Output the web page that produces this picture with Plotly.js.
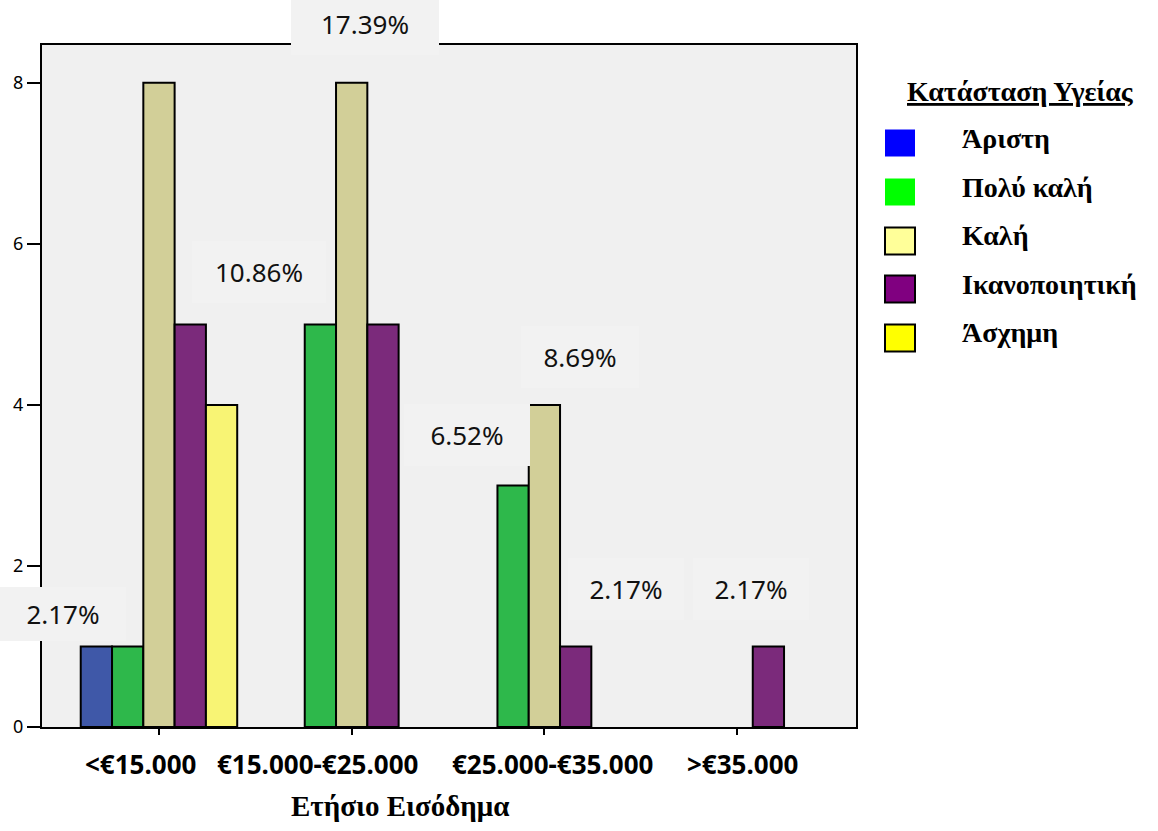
<!DOCTYPE html>
<html>
<head>
<meta charset="utf-8">
<script src="https://cdn.plot.ly/plotly-3.0.1.min.js"></script>
<style>html,body{margin:0;padding:0;background:#fff;}#chart{width:1158px;height:831px;}</style>
</head>
<body>
<div id="chart"></div>
<script>
// ---- data ----
const categories = ['<€15.000', '€15.000-€25.000', '€25.000-€35.000', '>€35.000'];
const seriesNames = ['Άριστη', 'Πολύ καλή', 'Καλή', 'Ικανοποιητική', 'Άσχημη'];
const aristi      = [1, null, null, null];
const polyKali    = [1, 5, 3, null];
const kali        = [8, 8, 4, null];
const ikanopoiet  = [5, 5, 1, 1];
const asximi      = [4, null, null, null];
const pctLabels   = ['2.17%', '17.39%', '10.86%', '6.52%', '8.69%', '2.17%', '2.17%'];
const xTitle = 'Ετήσιο Εισόδημα';
const legendTitle = 'Κατάσταση Υγείας';

// ---- styles ----
const barColors = ['#3f58a8', '#2eb84b', '#d2cf98', '#7b2a7b', '#f8f474'];
const legendColors = ['#0000ff', '#00ff00', '#ffff99', '#800080', '#ffff00'];
const legendBorders = [false, false, true, true, true];
const allSeries = [aristi, polyKali, kali, ikanopoiet, asximi];

// label placement in pixels (layout only)
const pctPx = [[63, 614], [365, 24], [259, 272], [467, 435], [580, 357], [626, 589], [751, 589]];
const pctBoxW = [118, 140, 126, 118, 110, 108, 108];
const pctBoxH = [46, 54, 54, 54, 54, 54, 54];
const catLabelPxX = [140, 317, 552, 742];   // source places category labels off-centre
const catLabelPxY = 764;
const xTitlePx = [400, 806];

const L = 42, R = 856, T = 45, B = 727;
const W = 1158, H = 831;
const pxX = p => (p - L) / (R - L);
const pxY = p => (B - p) / (B - T);

const traces = allSeries.map((vals, i) => ({
  type: 'bar',
  name: seriesNames[i],
  x: categories,
  y: vals,
  marker: {color: barColors[i], line: {color: '#000', width: 2}},
  showlegend: false,
  hoverinfo: 'x+y+name'
}));

const sans = 'Noto Sans, Open Sans, sans-serif';
const serif = 'Liberation Serif, Times New Roman, serif';

const annotations = [];
pctLabels.forEach((t, i) => {
  annotations.push({
    xref: 'paper', yref: 'paper', x: pxX(pctPx[i][0]), y: pxY(pctPx[i][1]),
    xanchor: 'center', yanchor: 'middle',
    text: t, showarrow: false,
    font: {family: sans, size: 26, color: '#111'},
    bgcolor: '#f2f2f2', borderpad: 4, borderwidth: 0,
    width: pctBoxW[i], height: pctBoxH[i], align: 'center', valign: 'middle'
  });
});

// category labels (axis tick labels drawn as annotations to keep source placement)
categories.forEach((c, i) => {
  annotations.push({
    xref: 'paper', yref: 'paper', x: pxX(catLabelPxX[i]), y: pxY(catLabelPxY),
    xanchor: 'center', yanchor: 'middle', showarrow: false,
    text: '<b>' + c + '</b>',
    font: {family: sans, size: 26, color: '#000'}
  });
});

// x-axis title
annotations.push({
  xref: 'paper', yref: 'paper', x: pxX(xTitlePx[0]), y: pxY(xTitlePx[1]),
  xanchor: 'center', yanchor: 'middle', showarrow: false,
  text: '<b>' + xTitle + '</b>',
  font: {family: serif, size: 29, color: '#000'}
});

annotations.push({
  xref: 'paper', yref: 'paper', x: pxX(1021), y: pxY(91),
  xanchor: 'center', yanchor: 'middle', showarrow: false,
  text: '<b><u>' + legendTitle + '</u></b>',
  font: {family: serif, size: 28, color: '#000'}
});
const legendCenters = [143, 192, 241, 289, 338];
const shapes = [];
seriesNames.forEach((n, i) => {
  const cy = legendCenters[i];
  shapes.push({
    type: 'rect', xref: 'paper', yref: 'paper',
    x0: pxX(885), x1: pxX(915), y0: pxY(cy + 13.5), y1: pxY(cy - 13.5),
    fillcolor: legendColors[i],
    line: {color: legendBorders[i] ? '#000' : legendColors[i], width: legendBorders[i] ? 2 : 0}
  });
  annotations.push({
    xref: 'paper', yref: 'paper', x: pxX(960), y: pxY(cy - 5),
    xanchor: 'left', yanchor: 'middle', showarrow: false,
    text: '<b>' + n + '</b>',
    font: {family: serif, size: 28, color: '#000'}
  });
});

const layout = {
  width: W, height: H,
  margin: {l: L, r: W - R, t: T, b: H - B, pad: 0},
  paper_bgcolor: '#ffffff',
  plot_bgcolor: '#f0f0f0',
  barmode: 'group',
  bargap: 0.188,
  bargroupgap: 0,
  showlegend: false,
  xaxis: {
    type: 'category',
    range: [-0.607, 3.617],
    tickvals: categories,
    showticklabels: false,
    showline: true, mirror: true, linecolor: '#000', linewidth: 2,
    ticks: 'outside', ticklen: 6, tickwidth: 2, tickcolor: '#000',
    showgrid: false, zeroline: false
  },
  yaxis: {
    range: [0, 8.47],
    tickvals: [0, 2, 4, 6, 8],
    showline: true, mirror: true, linecolor: '#000', linewidth: 2,
    ticks: 'outside', ticklen: 13, tickwidth: 1.5, tickcolor: '#000',
    tickfont: {family: sans, size: 18, color: '#000'},
    ticklabelstandoff: 0,
    showgrid: false, zeroline: false
  },
  annotations: annotations,
  shapes: shapes
};

Plotly.newPlot('chart', traces, layout, {displayModeBar: false, staticPlot: true});
</script>
</body>
</html>
